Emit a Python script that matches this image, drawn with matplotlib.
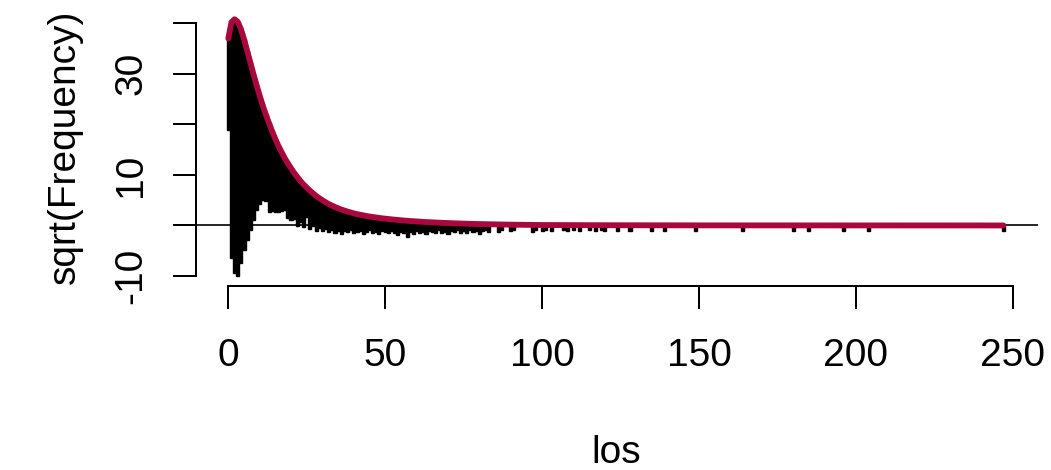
import numpy as np
import matplotlib
matplotlib.use("Agg")
import matplotlib.pyplot as plt

plt.rcParams['font.family'] = ['Liberation Sans', 'DejaVu Sans']

# sqrt(expected frequency) at counts 0..100, plus a few far tail points
curve_x = list(range(0, 101)) + [120, 150, 200, 247]
curve_y = [37.0, 40.2, 40.8, 40.3, 38.9, 36.9, 34.6, 32.3, 30.0, 27.8,
           25.7, 23.7, 21.9, 20.2, 18.6, 17.1, 15.7, 14.5, 13.3, 12.3,
           11.3, 10.4, 9.6, 8.8, 8.1, 7.5, 6.9, 6.35, 5.85, 5.4,
           5.0, 4.6, 4.25, 3.95, 3.65, 3.4, 3.15, 2.95, 2.75, 2.57,
           2.4, 2.25, 2.12, 2.0, 1.88, 1.78, 1.68, 1.59, 1.5, 1.42,
           1.35, 1.28, 1.21, 1.15, 1.09, 1.03, 0.98, 0.93, 0.88, 0.84,
           0.8, 0.76, 0.72, 0.68, 0.65, 0.62, 0.59, 0.56, 0.53, 0.5,
           0.48, 0.45, 0.43, 0.41, 0.39, 0.37, 0.35, 0.33, 0.31, 0.3,
           0.28, 0.27, 0.25, 0.24, 0.23, 0.22, 0.2, 0.19, 0.18, 0.17,
           0.16, 0.15, 0.14, 0.14, 0.13, 0.12, 0.12, 0.11, 0.1, 0.1,
           0.09, 0.05, 0.02, 0.01, 0.0]

# hanging bars: count value and lower end (sqrt(expected) - sqrt(observed))
bar_x = list(range(0, 84)) + [86, 87, 90, 91, 97, 98, 100]
bar_low = [18.9, -6.5, -9.4, -10.0, -7.5, -4.9, -2.9, -0.9, 1.0, 3.0,
           4.3, 5.0, 4.9, 2.7, 2.8, 2.6, 2.7, 2.9, 3.1, 1.5,
           1.0, 1.3, -0.2, 0.6, -0.3, 1.6, -0.6, -0.2, -1.0, -0.5,
           -1.1, -0.7, -1.3, -0.9, -1.4, -1.0, -1.6, -1.1, -1.3, -0.8,
           -1.5, -1.2, -1.0, -1.6, -1.3, -0.9, -1.4, -1.2, -1.7, -1.0,
           -1.3, -1.5, -1.1, -1.4, -1.8, -1.2, -1.5, -2.3, -1.3, -1.6,
           -1.1, -1.4, -1.2, -1.7, -1.0, -1.3, -1.5, -0.9, -1.4, -1.2,
           -1.6, -1.0, -1.3, -0.8, -1.5, -1.1, -1.4, -0.9, -1.2, -1.0,
           -1.6, -1.1, -0.8, -1.3, -1.2, -0.9, -1.1, -0.8, -1.2, -0.9, -1.0]

# sparse counts in the long tail (single observations)
tail_x = [101, 103, 107, 108, 110, 112, 115, 117, 119, 120, 124, 128,
          135, 139, 149, 164, 180, 185, 196, 204, 247]
tail_top = [0.09, 0.08, 0.07, 0.07, 0.06, 0.06, 0.05, 0.05, 0.05, 0.05, 0.04, 0.04,
            0.03, 0.03, 0.02, 0.02, 0.01, 0.01, 0.01, 0.01, 0.0]
tail_low = [-0.9, -1.0, -0.9, -1.1, -0.9, -1.0, -0.9, -1.0, -0.9, -1.0, -1.0, -1.0,
            -1.0, -1.0, -1.0, -1.0, -1.0, -1.0, -1.0, -1.0, -1.0]

y_ticks = [-10, 0, 10, 20, 30, 40]
y_labels = ['-10', '', '10', '', '30', '']
x_ticks = [0, 50, 100, 150, 200, 250]

line_col = '#A8083E'

fig = plt.figure(figsize=(10.51, 4.70), dpi=100)
ax = fig.add_axes([0.1861, 0.3923, 0.8012, 0.5904])

top_lookup = dict(zip(curve_x, curve_y))
bar_top = [top_lookup[x] for x in bar_x]
heights = np.array(bar_top) - np.array(bar_low)
ax.bar(bar_x, heights, bottom=bar_low, width=1.0, color='black',
       edgecolor='black', linewidth=1.0, zorder=2)
ax.bar(tail_x, np.array(tail_top) - np.array(tail_low), bottom=tail_low, width=1.0,
       color='black', edgecolor='black', linewidth=1.0, zorder=2)

ax.axhline(0, color='black', linewidth=1.2, zorder=1)
ax.plot(curve_x, curve_y, color=line_col, linewidth=4.2,
        solid_capstyle='round', solid_joinstyle='round', zorder=3)

ax.set_xlim(-10.42, 257.92)
ax.set_ylim(-11.9, 43.0)

for side in ['top', 'right']:
    ax.spines[side].set_visible(False)
ax.spines['left'].set_bounds(-10, 40)
ax.spines['bottom'].set_bounds(0, 250)
for side in ['left', 'bottom']:
    ax.spines[side].set_linewidth(1.44)

ax.set_xticks(x_ticks)
ax.set_xticklabels([str(v) for v in x_ticks], fontsize=28)
ax.set_yticks(y_ticks)
ax.set_yticklabels(y_labels, fontsize=28, rotation=90, va='center')
ax.tick_params(axis='both', length=16.5, width=1.44, direction='out')
ax.tick_params(axis='x', pad=21)
ax.tick_params(axis='y', pad=17)

ax.set_xlabel('los', fontsize=28, labelpad=44)
ax.set_ylabel('sqrt(Frequency)', fontsize=28, labelpad=22)

fig.savefig('out.png', dpi=100)
